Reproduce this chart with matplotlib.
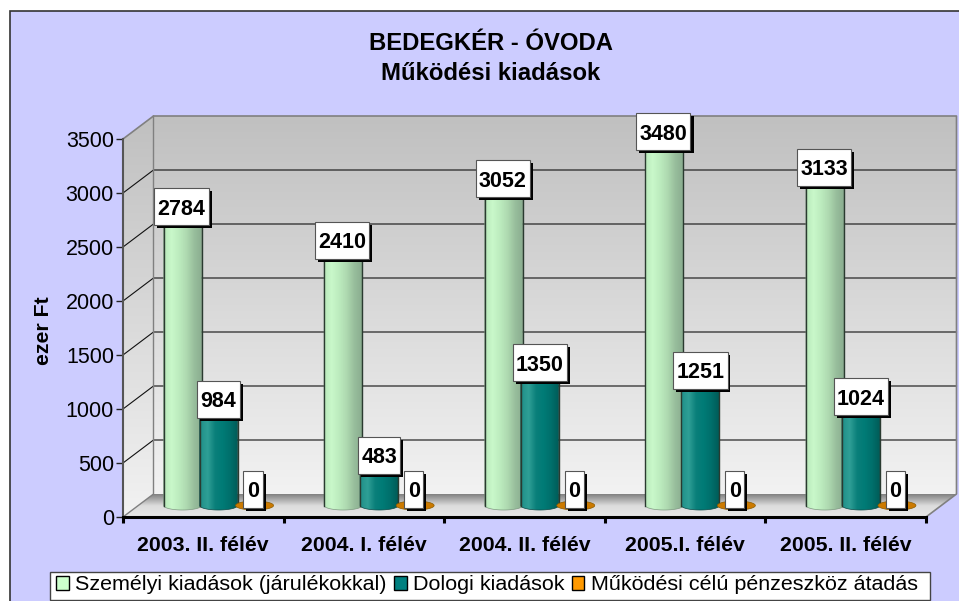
import numpy as np
import matplotlib
matplotlib.use('Agg')
import matplotlib.pyplot as plt
from matplotlib.colors import LinearSegmentedColormap
from matplotlib.patches import Polygon, Rectangle, Patch

plt.rcParams['font.family'] = ['Liberation Sans', 'DejaVu Sans']

categories = ['2003. II. félév', '2004. I. félév', '2004. II. félév', '2005.I. félév', '2005. II. félév']
szemelyi = [2784, 2410, 3052, 3480, 3133]
dologi = [984, 483, 1350, 1251, 1024]
atadas = [0, 0, 0, 0, 0]
series_names = ['Személyi kiadások (járulékokkal)', 'Dologi kiadások', 'Működési célú pénzeszköz átadás']
yticks = [0, 500, 1000, 1500, 2000, 2500, 3000, 3500]

# small shifts of the value boxes, pixels (up is +)
nudge_szemelyi = [-2, 5, -3, -2, 0]
nudge_dologi = [0, -2, -3, 0, -2]

W, H = 959, 601
px_x = (926 - 123) / 5     # pixels per category
px_y = (517 - 139) / 3500  # pixels per value unit
dx = 30.5 / px_x           # depth of the 3d box
dy = 23 / px_y

fig = plt.figure(figsize=(W / 100, H / 100), dpi=100, facecolor='white')
fig.add_artist(Rectangle((9.5 / W, -0.01), 1, 1 - 10.5 / H + 0.01, transform=fig.transFigure,
                         facecolor='#ccccff', edgecolor='#333333', lw=1.2, zorder=-5))

ax = fig.add_axes([123 / W, 1 - 517 / H, (926 - 123) / W, (517 - 139) / H])
ax.patch.set_visible(False)


def shaded(extent, colors, clip, vertical=True, z=1):
    cmap = LinearSegmentedColormap.from_list('c', colors)
    g = np.linspace(0, 1, 128)
    g = g.reshape(-1, 1) if vertical else g.reshape(1, -1)
    im = ax.imshow(g, extent=extent, origin='lower', cmap=cmap, aspect='auto', zorder=z,
                   interpolation='bilinear')
    poly = Polygon(clip, closed=True, transform=ax.transData)
    im.set_clip_box(fig.bbox)
    im.set_clip_path(poly)
    return im


top = 3500
# walls and floor
shaded([dx, 5 + dx, dy, top + dy], ['#f2f2f2', '#c0c0c0'],
       [(dx, dy), (5 + dx, dy), (5 + dx, top + dy), (dx, top + dy)])
shaded([0, dx, 0, top + dy], ['#f2f2f2', '#c0c0c0'],
       [(0, 0), (dx, dy), (dx, top + dy), (0, top)])
shaded([0, 5 + dx, 0, dy], ['#e8e8e8', '#dcdcdc', '#808080'],
       [(0, 0), (5, 0), (5 + dx, dy), (dx, dy)], z=1.1)

for v in yticks[1:-1]:
    ax.plot([0, dx, 5 + dx], [v, v + dy, v + dy], color='#111111', lw=0.8, zorder=2, clip_on=False)
ax.plot([0, dx, 5 + dx, 5 + dx, 5], [top, top + dy, top + dy, dy, 0], color='#808080', lw=1.2,
        zorder=2, clip_on=False)
ax.plot([dx, dx, 0], [top + dy, dy, 0], color='#808080', lw=1.0, zorder=2, clip_on=False)

bar_w = 38 / px_x
eh = 4.5 / px_y
green = ['#b8e8ba', '#c9f8ca', '#bcebbe', '#aed9b0', '#98be9c', '#8aad90']
teal = ['#1f8f88', '#2f9f96', '#0a7f7a', '#007b76', '#006f6b', '#005c58']
orange = '#cc7a00'


def cylinder(xc, v, colors, edge, z):
    t = np.linspace(0, np.pi, 40)
    yb = dy / 2
    low = [(xc - bar_w / 2 * np.cos(a), yb - eh * np.sin(a)) for a in t]
    up = [(xc + bar_w / 2 * np.cos(a), yb + v + eh * np.sin(a)) for a in t]
    shaded([xc - bar_w / 2, xc + bar_w / 2, 0, yb + v + eh], colors, low + up, vertical=False, z=z)
    ax.add_patch(Polygon(low + up, closed=True, facecolor='none', edgecolor=edge, lw=0.5,
                         zorder=z + 0.01, clip_on=False))
    for side in (-1, 1):
        ax.plot([xc + side * bar_w / 2] * 2, [yb, yb + v], color='#2a3a30', lw=1.0,
                zorder=z + 0.02, clip_on=False)


def value_box(xc, yc, s, z=10):
    w = (len(s) * 11.7 + 7.5) / px_x
    h = 37 / px_y
    ax.add_patch(Rectangle((xc - w / 2 + 3 / px_x, yc - h / 2 - 3 / px_y), w, h, facecolor='black',
                           edgecolor='none', zorder=z, clip_on=False))
    ax.add_patch(Rectangle((xc - w / 2, yc - h / 2), w, h, facecolor='white', edgecolor='#555555',
                           lw=0.8, zorder=z + 0.1, clip_on=False))
    ax.text(xc, yc, s, ha='center', va='center_baseline', fontsize=15.5, fontweight='bold',
            color='black', zorder=z + 0.2, clip_on=False)


offs = [36 / px_x * k for k in (-1, 0, 1)]
for i in range(5):
    c = i + 0.5 + dx / 2
    cylinder(c + offs[0], szemelyi[i], green, '#7d9a80', 3)
    cylinder(c + offs[1], dologi[i], teal, '#0a4a48', 4)
    # the zero series is only a disc on the floor
    t = np.linspace(0, 2 * np.pi, 60)
    ax.add_patch(Polygon(np.c_[c + offs[2] + bar_w / 2 * np.cos(t), dy / 2 + atadas[i] + eh * np.sin(t)],
                         closed=True, facecolor=orange, edgecolor='#8a5a00', lw=0.5, zorder=5, clip_on=False))

for i in range(5):
    c = i + 0.5 + dx / 2
    value_box(c + offs[0] - 1 / px_x, dy / 2 + szemelyi[i] + nudge_szemelyi[i] / px_y, str(szemelyi[i]))
    value_box(c + offs[1], dy / 2 + dologi[i] + nudge_dologi[i] / px_y, str(dologi[i]), z=11)
    value_box(c + offs[2] - 1.5 / px_x, dy / 2 + atadas[i] + 16.5 / px_y, str(atadas[i]), z=12)

ax.set_xlim(0, 5)
ax.set_ylim(0, 3500)
for s in ['top', 'right']:
    ax.spines[s].set_visible(False)
ax.spines['bottom'].set_linewidth(2.2)
ax.spines['bottom'].set_color('black')
ax.spines['left'].set_linewidth(1.5)
ax.spines['left'].set_color('#555555')
for s in ax.spines.values():
    s.set_zorder(6)

ax.set_yticks(yticks)
ax.set_yticklabels([str(v) for v in yticks], fontsize=15.5)
ax.tick_params(axis='y', length=5, width=1.0, color='#222222', pad=1.5)
ax.set_xticks(range(6))
ax.set_xticklabels([])
ax.tick_params(axis='x', which='major', length=4.5, width=2.2, color='black')
ax.set_xticks(np.arange(5) + 0.5, minor=True)
ax.set_xticklabels(categories, minor=True, fontsize=15.3, fontweight='bold')
ax.tick_params(axis='x', which='minor', length=0, pad=13.5)
ax.set_ylabel('ezer Ft', fontsize=15.3, fontweight='bold', va='center')
ax.yaxis.set_label_coords(-80 / 803, 186 / 378)

fig.text(491 / W, 1 - 44 / H, 'BEDEGKÉR - ÓVODA', ha='center', va='center', fontsize=17.2, fontweight='bold')
fig.text(491 / W, 1 - 73 / H, 'Működési kiadások', ha='center', va='center', fontsize=17.2, fontweight='bold')

# legend box drawn apart, it is wider than the entries
fig.add_artist(Rectangle((50 / W, 1 / H), 880 / W, 28.5 / H, transform=fig.transFigure, facecolor='white',
                         edgecolor='#444444', lw=1.0, zorder=4))
handles = [Patch(facecolor=c, edgecolor='black', lw=1.0) for c in ['#ccffcc', '#008080', '#ff9900']]
leg = fig.legend(handles, series_names, ncol=3, loc='lower left', bbox_to_anchor=(50 / W, 0.0015),
                 fontsize=15.45, frameon=False, handlelength=0.6, handleheight=0.6, handletextpad=0.3,
                 columnspacing=0.33, borderpad=0.27, borderaxespad=0)
leg.set_zorder(5)

fig.savefig('out.png', dpi=100)
